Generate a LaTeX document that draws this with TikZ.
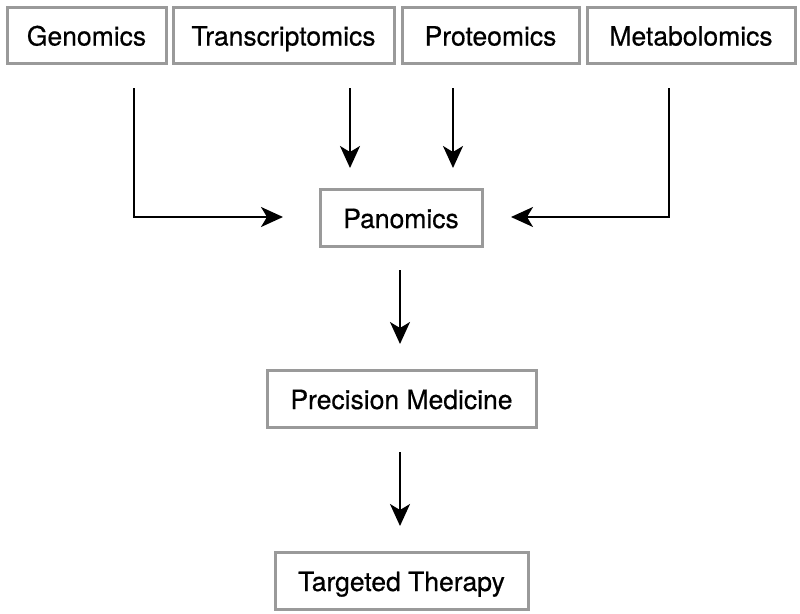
\documentclass[tikz,border=0pt]{standalone}
\usepackage{fontspec}
\setmainfont{TeX Gyre Heros}
\newfontfamily\medfont{TeX Gyre Heros}[FakeBold=0.5]
\usetikzlibrary{arrows.meta}
\definecolor{boxgray}{HTML}{9A9A9A}
\begin{document}
\begin{tikzpicture}[x=1pt,y=-1pt,
  box/.style={draw=boxgray,line width=3pt,fill=white,inner sep=0pt,text height=21pt,text depth=0pt,font=\medfont\fontsize{26.5}{30}\selectfont,text=black},
  arr/.style={line width=2pt,-{Stealth[length=22pt,width=20pt,inset=6pt]}}]
\useasboundingbox (0,0) rectangle (800,613);
\fill[white] (0,0) rectangle (800,613);
\node[box,minimum width=159pt,minimum height=56pt] (gen) at (86.5,35) {Genomics};
\node[box,minimum width=221pt,minimum height=56pt] (tra) at (283.5,35) {Transcriptomics};
\node[box,minimum width=177pt,minimum height=56pt] (pro) at (490.5,35) {Proteomics};
\node[box,minimum width=208pt,minimum height=56pt] (met) at (691,35) {Metabolomics};
\node[box,minimum width=162pt,minimum height=57pt] (pan) at (401,217.5) {Panomics};
\node[box,minimum width=269pt,minimum height=57pt] (pre) at (401.5,398.5) {Precision Medicine};
\node[box,minimum width=253pt,minimum height=57pt] (tar) at (401.5,580.5) {Targeted Therapy};
\coordinate (g0) at (134,88);
\coordinate (g1) at (134,217);
\coordinate (ge) at (283,217);
\coordinate (t0) at (350,88);
\coordinate (te) at (350,168);
\coordinate (p0) at (453,88);
\coordinate (pe) at (453,168);
\coordinate (m0) at (669,88);
\coordinate (m1) at (669,217);
\coordinate (me) at (511,217);
\coordinate (a0) at (400,270);
\coordinate (ae) at (400,344);
\coordinate (b0) at (400,452);
\coordinate (be) at (400,526);
\draw[arr] (g0) -- (g1) -- (ge);
\draw[arr] (t0) -- (te);
\draw[arr] (p0) -- (pe);
\draw[arr] (m0) -- (m1) -- (me);
\draw[arr] (a0) -- (ae);
\draw[arr] (b0) -- (be);
\end{tikzpicture}
\end{document}
